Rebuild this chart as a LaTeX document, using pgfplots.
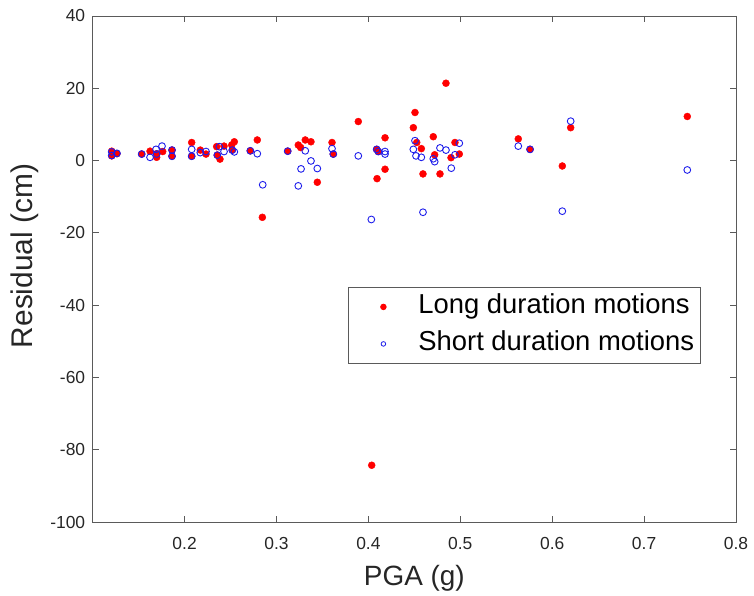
\documentclass[border=0pt]{standalone}
\usepackage{pgfplots}
\pgfplotsset{compat=1.18}
\usepackage{fontspec}
\setmainfont{Liberation Sans}
\definecolor{mred}{RGB}{255,0,0}
\definecolor{mblue}{RGB}{30,30,235}
\definecolor{axgray}{RGB}{90,90,90}
\definecolor{txt}{RGB}{38,38,38}
\begin{document}
\begin{tikzpicture}
\useasboundingbox (-92.7bp,-74bp) rectangle (661.3bp,522bp);
\begin{axis}[
  width=643.3bp, height=506bp, scale only axis,
  xmin=0.1, xmax=0.8, ymin=-100, ymax=40,
  xtick={0.2,0.3,0.4,0.5,0.6,0.7,0.8},
  ytick={-100,-80,-60,-40,-20,0,20,40},
  xticklabels={0.2,0.3,0.4,0.5,0.6,0.7,0.8},
  tick align=inside, major tick length=6bp, tick pos=both,
  axis line style={axgray, line width=0.8bp},
  every tick/.style={axgray, line width=0.8bp},
  /pgf/number format/assume math mode=true,
  tick label style={font=\fontsize{17.5}{17.5}\selectfont, text=txt},
  xticklabel style={yshift=-12bp},
  yticklabel style={xshift=-4bp},
  xlabel={PGA (g)}, ylabel={Residual (cm)},
  xlabel style={font=\fontsize{28}{28}\selectfont, text=txt, at={(axis description cs:0.5,-0.1107)}, anchor=center},
  ylabel style={font=\fontsize{30}{30}\selectfont, text=txt, at={(axis description cs:-0.1052,0.5257)}, anchor=center},
  legend style={at={(axis description cs:0.3969,0.4644)}, anchor=north west,
    draw=axgray, line width=0.8bp, inner xsep=6bp, inner ysep=5.75bp,
    column sep=6bp, row sep=9.5bp,
    nodes={inner sep=0pt, text height=20.6bp, text depth=6.9bp, font=\fontsize{27.5}{27.5}\selectfont, text=black}},
  legend cell align=left,
  legend image code/.code={\path[draw=none,fill=none] (0bp,0bp) -- (58bp,0bp); \draw[#1] plot coordinates {(29bp,0bp)};},
]
\addplot[only marks, mark=*, mark size=3.5bp, color=mred, legend image post style={mark size=2.8bp}] coordinates {
(0.1207,2.6)(0.1207,1.3)(0.1264,1.9)
(0.1533,1.8)(0.1624,2.6)(0.1696,0.9)(0.1696,1.9)(0.1762,2.5)(0.1863,2.9)(0.1863,1.2)
(0.2077,5.0)(0.2077,1.2)(0.2171,2.9)(0.2233,1.8)(0.2349,3.85)(0.2356,1.5)(0.2385,0.4)(0.2429,4.0)(0.2513,4.3)(0.2541,5.2)(0.2519,2.9)
(0.2715,2.7)(0.2791,5.7)(0.2846,-15.7)(0.3122,2.6)(0.3237,4.3)(0.3263,3.6)(0.3313,5.7)(0.3375,5.2)(0.3444,-6.0)
(0.3604,5.0)(0.3618,1.8)(0.3890,10.8)(0.4036,-84.3)(0.4090,3.1)(0.4094,-5.0)(0.4108,2.5)(0.4181,6.3)(0.4181,-2.4)
(0.4489,9.1)(0.4507,13.3)(0.4526,5.0)(0.4576,3.3)(0.4594,-3.7)(0.4706,6.6)(0.4721,1.6)(0.4779,-3.7)(0.4844,21.4)(0.4899,0.8)(0.4942,5.0)(0.4989,1.8)
(0.5631,6.0)(0.5759,3.1)(0.6110,-1.5)(0.6201,9.1)(0.7470,12.2)
};
\addlegendentry{Long duration motions}
\addplot[only marks, mark=o, mark size=3.4bp, color=mblue, mark options={line width=0.9bp}, legend image post style={mark size=2.3bp, mark options={line width=0.8bp}}] coordinates {
(0.1207,2.4)(0.1207,1.4)(0.1264,2.0)
(0.1533,1.8)(0.1624,0.9)(0.1689,3.1)(0.1696,1.8)(0.1754,4.0)(0.1863,2.9)(0.1863,1.2)
(0.2077,3.1)(0.2077,1.2)(0.2171,2.2)(0.2233,2.5)(0.2356,1.5)(0.2378,3.85)(0.2429,2.5)(0.2519,2.9)(0.2541,2.4)
(0.2715,2.7)(0.2791,1.9)(0.2850,-6.7)(0.3122,2.6)(0.3237,-7.0)(0.3267,-2.3)(0.3313,2.7)(0.3375,-0.1)(0.3444,-2.2)
(0.3604,3.3)(0.3618,1.8)(0.3890,1.3)(0.4032,-16.3)(0.4090,3.1)(0.4108,2.5)(0.4181,2.5)(0.4181,1.8)
(0.4507,5.5)(0.4489,3.1)(0.4518,1.3)(0.4576,0.9)(0.4594,-14.3)(0.4706,0.5)(0.4721,-0.3)(0.4779,3.5)(0.4844,2.9)(0.4942,1.6)(0.4989,4.8)(0.4902,-2.1)
(0.5631,4.0)(0.5759,3.1)(0.6110,-14.0)(0.6201,10.9)(0.7470,-2.6)
};
\addlegendentry{Short duration motions}
\end{axis}
\end{tikzpicture}
\end{document}
